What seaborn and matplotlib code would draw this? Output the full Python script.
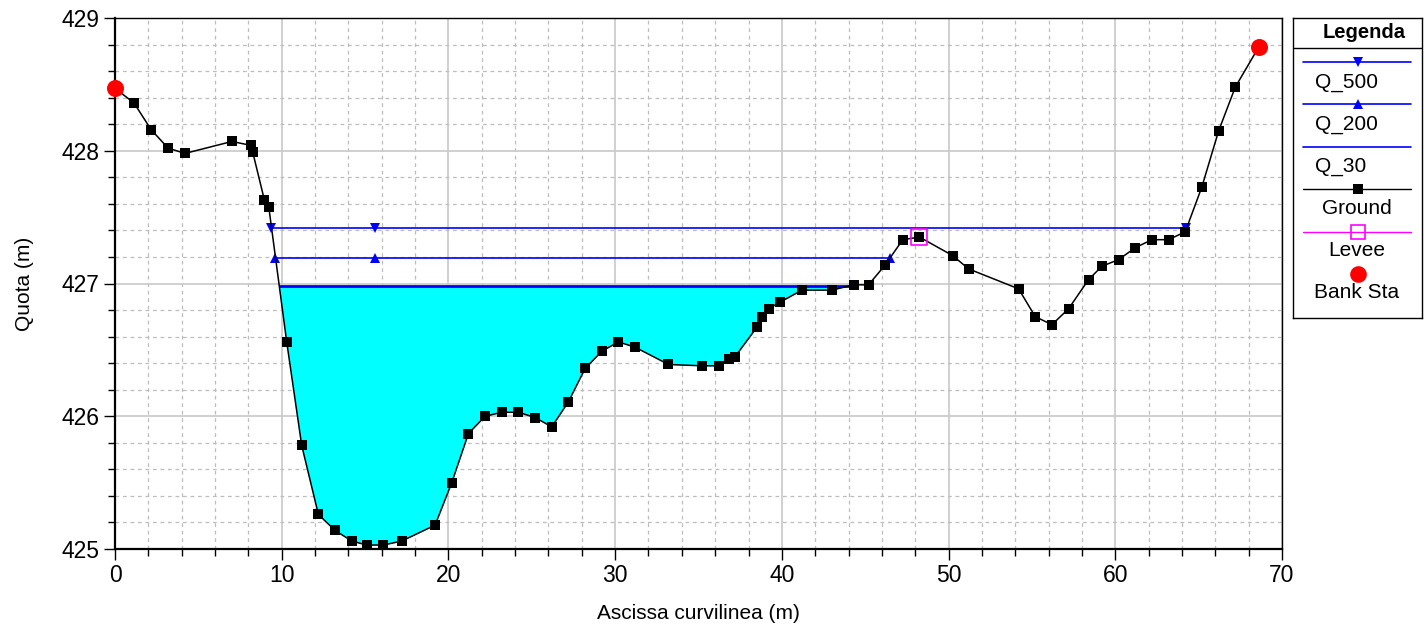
import numpy as np
import pandas as pd
import matplotlib
matplotlib.use('Agg')
import matplotlib.pyplot as plt
import seaborn as sns

# ground profile (station, elevation)
ground_x = [0, 1.14, 2.16, 3.18, 4.2, 7.02, 8.16, 8.26, 8.96, 9.22,
            10.3, 11.2, 12.2, 13.2, 14.2, 15.1, 16.1, 17.2, 19.2, 20.2,
            21.2, 22.2, 23.2, 24.2, 25.2, 26.2, 27.2, 28.2, 29.2, 30.2,
            31.2, 33.2, 35.2, 36.2, 36.8, 37.2, 38.5, 38.8, 39.2, 39.9,
            41.2, 43.0, 44.3, 45.2, 46.2, 47.25, 48.25, 50.25, 51.2, 54.2,
            55.2, 56.2, 57.2, 58.4, 59.2, 60.2, 61.2, 62.2, 63.2, 64.2,
            65.2, 66.2, 67.2, 68.6]
ground_y = [428.47, 428.36, 428.16, 428.02, 427.98, 428.07, 428.04, 427.99, 427.63, 427.58,
            426.56, 425.78, 425.26, 425.14, 425.06, 425.03, 425.03, 425.06, 425.18, 425.50,
            425.87, 426.00, 426.03, 426.03, 425.99, 425.92, 426.11, 426.36, 426.49, 426.56,
            426.52, 426.39, 426.38, 426.38, 426.43, 426.45, 426.67, 426.75, 426.81, 426.86,
            426.95, 426.95, 426.99, 426.99, 427.14, 427.33, 427.35, 427.21, 427.11, 426.96,
            426.75, 426.69, 426.81, 427.03, 427.13, 427.18, 427.27, 427.33, 427.33, 427.39,
            427.73, 428.15, 428.48, 428.78]

# water surfaces
wse_names = ['Q_500', 'Q_200', 'Q_30']
wse_levels = [427.42, 427.19, 426.98]
wse_left = [9.35, 9.6, 9.9]
wse_right = [64.25, 46.5, 44.2]
wse_mid = 15.6

bank_x = [0, 68.6]
bank_y = [428.47, 428.78]
levee_x = [48.25]
levee_y = [427.35]

sns.set_style('white')
plt.rcParams['font.family'] = ['Liberation Sans', 'DejaVu Sans']
plt.rcParams['text.color'] = 'black'
plt.rcParams['axes.labelcolor'] = 'black'
plt.rcParams['xtick.color'] = 'black'
plt.rcParams['ytick.color'] = 'black'

fig = plt.figure(figsize=(14.27, 6.27), dpi=100)
ax = fig.add_axes([115 / 1427, 1 - 549 / 627, 1167 / 1427, 531 / 627])

gx = np.array(ground_x)
gy = np.array(ground_y)

# Q_30 fill, only inside the wetted section
lev30 = wse_levels[2]
inside = (gx <= wse_right[2]) & (gx >= wse_left[2] - 1)
ax.fill_between(gx, gy, lev30, where=(gy < lev30) & inside,
                interpolate=True, color='#00ffff', lw=0, zorder=2)

mk = {'Q_500': 'v', 'Q_200': '^'}
for name, lev, xl, xr in zip(wse_names, wse_levels, wse_left, wse_right):
    if name in mk:
        d = pd.DataFrame({'x': [xl, wse_mid, xr], 'y': [lev] * 3})
        sns.lineplot(data=d, x='x', y='y', ax=ax, color='blue', lw=1.2,
                     marker=mk[name], markersize=7.5, markeredgewidth=0,
                     sort=False, zorder=4)
    else:
        d = pd.DataFrame({'x': [xl, xr], 'y': [lev] * 2})
        sns.lineplot(data=d, x='x', y='y', ax=ax, color='blue', lw=2.0,
                     sort=False, zorder=4)

gd = pd.DataFrame({'x': ground_x, 'y': ground_y})
sns.lineplot(data=gd, x='x', y='y', ax=ax, color='black', lw=1.1,
             marker='s', markersize=6.5, markeredgewidth=0, sort=False, zorder=5)

sns.scatterplot(x=levee_x, y=levee_y, ax=ax, marker='s', s=130,
                facecolor='none', edgecolor='magenta', linewidth=1.2, zorder=6)
sns.scatterplot(x=bank_x, y=bank_y, ax=ax, marker='o', s=150,
                color='red', edgecolor='red', linewidth=0, zorder=7, clip_on=False)

ax.set_xlim(0, 70)
ax.set_ylim(425, 429)
ax.set_xticks(np.arange(0, 71, 10))
ax.set_xticks(np.arange(0, 71, 2), minor=True)
ax.set_yticks(np.arange(425, 429.1, 1))
ax.set_yticks(np.arange(425, 429.01, 0.2), minor=True)
ax.grid(which='major', color='#c8c8c8', lw=1.2, ls='-', zorder=0)
ax.grid(which='minor', color='#bdbdbd', lw=0.9, ls=(0, (3, 3)), zorder=0)
ax.set_axisbelow(True)
ax.tick_params(which='major', direction='out', length=8, width=1, color='black',
               labelsize=16.5, pad=3, left=True, bottom=True)
ax.tick_params(which='minor', direction='out', length=5, width=1, color='black',
               left=True, bottom=True)
ax.set_yticklabels(['425', '426', '427', '428', '429'])
ax.set_xlabel('Ascissa curvilinea (m)', fontsize=15, labelpad=12)
ax.set_ylabel('Quota (m)', fontsize=15, labelpad=20)
for s in ['left', 'bottom']:
    ax.spines[s].set_color('black')
    ax.spines[s].set_linewidth(1.6)
for s in ['top', 'right']:
    ax.spines[s].set_color('black')
    ax.spines[s].set_linewidth(1.0)

# legend box drawn as its own axes
lg = fig.add_axes([1293 / 1427, 1 - 318 / 627, 129 / 1427, 300 / 627])
lg.set_xlim(1293, 1422)
lg.set_ylim(318, 18)
lg.set_xticks([])
lg.set_yticks([])
for s in lg.spines.values():
    s.set_color('black')
    s.set_linewidth(1.0)
lg.text(1364, 32, 'Legenda', ha='center', va='center', fontsize=14.5, fontweight='bold')
lg.axhline(48, color='black', lw=1.0)

lx = [1303, 1411]
lg.plot(lx, [62, 62], color='blue', lw=1.2)
lg.plot([1358], [62], marker='v', color='blue', markersize=7.5, mew=0)
lg.text(1315, 83, 'Q_500', ha='left', va='center', fontsize=15)
lg.plot(lx, [104, 104], color='blue', lw=1.2)
lg.plot([1358], [104], marker='^', color='blue', markersize=7.5, mew=0)
lg.text(1315, 124, 'Q_200', ha='left', va='center', fontsize=15)
lg.plot(lx, [147, 147], color='blue', lw=1.2)
lg.text(1315, 167, 'Q_30', ha='left', va='center', fontsize=15)
lg.plot(lx, [189, 189], color='black', lw=1.0)
lg.plot([1358], [189], marker='s', color='black', markersize=6.5, mew=0)
lg.text(1357, 209, 'Ground', ha='center', va='center', fontsize=15)
lg.plot(lx, [232, 232], color='magenta', lw=1.0)
lg.plot([1358], [232], marker='s', mfc='none', mec='magenta', markersize=10, mew=1.2)
lg.text(1357, 251, 'Levee', ha='center', va='center', fontsize=15)
lg.plot([1358], [274], marker='o', color='red', markersize=12, mew=0)
lg.text(1357, 293, 'Bank Sta', ha='center', va='center', fontsize=15)

fig.savefig('out.png', dpi=100)
